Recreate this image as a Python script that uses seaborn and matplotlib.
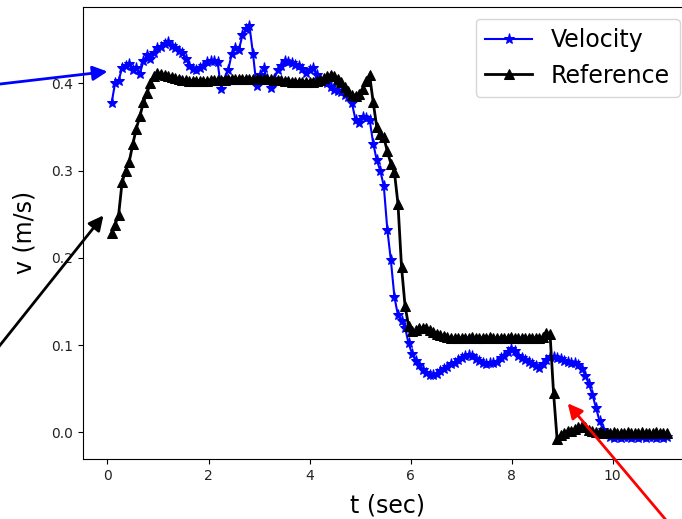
import numpy as np
import pandas as pd
import matplotlib
matplotlib.use("Agg")
import matplotlib.pyplot as plt
import seaborn as sns

# time samples (s): regular sampling
t_start = 0.08
t_step = 0.07
n_samples = 158
t = np.round(t_start + t_step * np.arange(n_samples), 3)

velocity = [
    0.377, 0.400, 0.403, 0.418, 0.420, 0.422, 0.415, 0.417, 0.411, 0.425,
    0.432, 0.428, 0.435, 0.440, 0.442, 0.445, 0.447, 0.443, 0.441, 0.437,
    0.435, 0.428, 0.420, 0.416, 0.415, 0.418, 0.420, 0.424, 0.426, 0.425,
    0.424, 0.394, 0.405, 0.415, 0.434, 0.441, 0.438, 0.455, 0.462, 0.466,
    0.434, 0.397, 0.410, 0.417, 0.405, 0.395, 0.405, 0.415, 0.420, 0.426,
    0.424, 0.423, 0.421, 0.420, 0.416, 0.412, 0.415, 0.417, 0.410, 0.405,
    0.402, 0.400, 0.396, 0.392, 0.391, 0.390, 0.387, 0.384, 0.377, 0.358,
    0.355, 0.361, 0.360, 0.358, 0.331, 0.312, 0.300, 0.282, 0.232, 0.197,
    0.155, 0.134, 0.127, 0.120, 0.102, 0.090, 0.082, 0.077, 0.071, 0.068,
    0.066, 0.066, 0.067, 0.070, 0.073, 0.075, 0.078, 0.080, 0.083, 0.085,
    0.087, 0.089, 0.087, 0.084, 0.082, 0.080, 0.078, 0.079, 0.080, 0.081,
    0.085, 0.088, 0.092, 0.095, 0.093, 0.088, 0.085, 0.083, 0.081, 0.078,
    0.076, 0.074, 0.078, 0.083, 0.086, 0.086, 0.085, 0.084, 0.082, 0.081,
    0.080, 0.079, 0.077, 0.073, 0.065, 0.055, 0.043, 0.028, 0.013, 0.003,
    -0.002, -0.005, -0.006, -0.005, -0.006, -0.005, -0.005, -0.006, -0.005, -0.006,
    -0.005, -0.006, -0.005, -0.005, -0.006, -0.005, -0.006, -0.005,
]

reference = [
    0.228, 0.238, 0.249, 0.287, 0.300, 0.310, 0.330, 0.348, 0.362, 0.378,
    0.389, 0.400, 0.408, 0.412, 0.411, 0.409, 0.408, 0.407, 0.406, 0.405,
    0.404, 0.404, 0.403, 0.403, 0.403, 0.403, 0.403, 0.403, 0.404, 0.404,
    0.404, 0.404, 0.404, 0.405, 0.405, 0.405, 0.405, 0.405, 0.405, 0.405,
    0.405, 0.405, 0.405, 0.405, 0.405, 0.405, 0.404, 0.404, 0.404, 0.403,
    0.403, 0.402, 0.402, 0.402, 0.402, 0.402, 0.402, 0.402, 0.403, 0.404,
    0.406, 0.408, 0.409, 0.408, 0.405, 0.401, 0.396, 0.391, 0.387, 0.386,
    0.388, 0.394, 0.403, 0.409, 0.378, 0.350, 0.342, 0.338, 0.322, 0.308,
    0.298, 0.262, 0.190, 0.145, 0.122, 0.116, 0.117, 0.119, 0.120, 0.119,
    0.117, 0.115, 0.113, 0.111, 0.110, 0.109, 0.108, 0.108, 0.108, 0.108,
    0.108, 0.108, 0.109, 0.108, 0.108, 0.108, 0.108, 0.109, 0.108, 0.108,
    0.108, 0.108, 0.108, 0.109, 0.108, 0.108, 0.108, 0.108, 0.108, 0.108,
    0.108, 0.108, 0.109, 0.114, 0.113, 0.045, -0.008, -0.003, -0.001, 0.001,
    0.002, 0.004, 0.006, 0.007, 0.006, 0.003, 0.001, 0.000, 0.000, -0.001,
    -0.001, -0.001, 0.000, -0.001, -0.001, -0.001, 0.000, -0.001, -0.001, -0.001,
    0.000, -0.001, -0.001, -0.001, 0.000, -0.001, -0.001, -0.001,
]

df = pd.DataFrame({"t": t, "Velocity": velocity, "Reference": reference})

fig = plt.figure(figsize=(6.82, 5.19), dpi=100)
ax = fig.add_axes([0.1213, 0.1156, 0.8926, 0.8715])

sns.lineplot(data=df, x="t", y="Velocity", ax=ax, color="blue", marker="*",
             markersize=8, markeredgecolor="blue", markerfacecolor="blue",
             linewidth=1.5, label="Velocity", estimator=None, sort=False)
sns.lineplot(data=df, x="t", y="Reference", ax=ax, color="black", marker="^",
             markersize=7, markeredgecolor="black", markerfacecolor="black",
             linewidth=2, label="Reference", estimator=None, sort=False)

ax.set_xlim(-0.49, 11.56)
ax.set_ylim(-0.0306, 0.4878)
ax.set_xticks([0, 2, 4, 6, 8, 10])
ax.set_yticks([0.0, 0.1, 0.2, 0.3, 0.4])
ax.tick_params(labelsize=10, labelcolor="#222222")
ax.spines["right"].set_visible(False)
ax.set_xlabel("t (sec)", fontsize=17, labelpad=8)
ax.set_ylabel("v (m/s)", fontsize=17, labelpad=10.5)
ax.legend(loc="upper right", fontsize=17)

arrow_kw = dict(arrowstyle="-|>", lw=2, mutation_scale=22, shrinkA=0, shrinkB=0)
ax.annotate("", xy=(0.0, 0.4135), xycoords="data",
            xytext=(-0.0205, 0.835), textcoords="figure fraction",
            arrowprops=dict(color="blue", **arrow_kw), annotation_clip=False)
ax.annotate("", xy=(-0.08, 0.2486), xycoords="data",
            xytext=(-0.0205, 0.301), textcoords="figure fraction",
            arrowprops=dict(color="black", **arrow_kw), annotation_clip=False)
ax.annotate("", xy=(9.11, 0.0332), xycoords="data",
            xytext=(0.995, -0.0308), textcoords="figure fraction",
            arrowprops=dict(color="red", **arrow_kw), annotation_clip=False)

fig.savefig("out.png", dpi=100)
